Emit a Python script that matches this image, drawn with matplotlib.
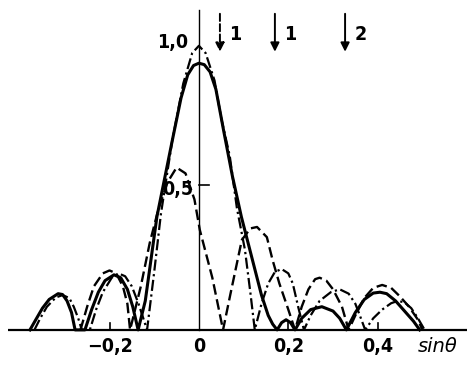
import matplotlib
matplotlib.use('Agg')
import matplotlib.pyplot as plt

# values (sin theta, relative amplitude)
solid_x = [-0.378, -0.365, -0.35, -0.335, -0.315, -0.305, -0.295, -0.285, -0.277,
           -0.255, -0.24, -0.225, -0.21, -0.19, -0.175, -0.16, -0.148, -0.136,
           -0.12, -0.094, -0.06, -0.04, -0.025, -0.012, 0.0, 0.012, 0.025, 0.038,
           0.055, 0.075, 0.095, 0.12, 0.14, 0.155, 0.165, 0.175,
           0.185, 0.195, 0.205, 0.215,
           0.23, 0.25, 0.275, 0.3, 0.315, 0.33,
           0.35, 0.37, 0.39, 0.405, 0.42, 0.44, 0.46, 0.48, 0.494]
solid_y = [0.0, 0.035, 0.075, 0.105, 0.125, 0.122, 0.1, 0.06, 0.0,
           0.0, 0.07, 0.13, 0.17, 0.19, 0.18, 0.14, 0.08, 0.0,
           0.1, 0.39, 0.65, 0.8, 0.88, 0.912, 0.92, 0.915, 0.89, 0.83,
           0.69, 0.53, 0.39, 0.24, 0.12, 0.05, 0.02, 0.0,
           0.025, 0.035, 0.025, 0.0,
           0.04, 0.07, 0.08, 0.065, 0.04, 0.0,
           0.06, 0.105, 0.127, 0.13, 0.125, 0.1, 0.065, 0.03, 0.0]

dashdot_x = [-0.368, -0.355, -0.34, -0.32, -0.305, -0.29, -0.28, -0.27, -0.262,
             -0.244, -0.23, -0.215, -0.195, -0.18, -0.165, -0.15, -0.135, -0.116,
             -0.1, -0.085, -0.06, -0.035, -0.015, 0.0, 0.015, 0.035, 0.05, 0.069,
             0.085, 0.103, 0.115, 0.125,
             0.14, 0.155, 0.17, 0.185, 0.2, 0.21, 0.222, 0.235,
             0.25, 0.27, 0.295, 0.315, 0.335, 0.35, 0.36, 0.372,
             0.39, 0.41, 0.43, 0.445, 0.46, 0.475, 0.49, 0.505]
dashdot_y = [0.0, 0.04, 0.08, 0.112, 0.12, 0.11, 0.08, 0.04, 0.0,
             0.0, 0.07, 0.13, 0.18, 0.195, 0.185, 0.15, 0.09, 0.0,
             0.2, 0.4, 0.65, 0.85, 0.955, 0.98, 0.955, 0.86, 0.73, 0.6,
             0.42, 0.276, 0.13, 0.0,
             0.09, 0.16, 0.2, 0.21, 0.195, 0.16, 0.08, 0.0,
             0.05, 0.1, 0.13, 0.14, 0.125, 0.09, 0.05, 0.0,
             0.04, 0.07, 0.092, 0.1, 0.095, 0.075, 0.04, 0.0]

dashed_x = [-0.265, -0.25, -0.235, -0.215, -0.2, -0.185, -0.17, -0.16, -0.154,
            -0.13, -0.11, -0.09, -0.07, -0.05, -0.03, -0.01, 0.002, 0.03, 0.054,
            0.07, 0.096, 0.115, 0.13, 0.152, 0.165, 0.18, 0.2, 0.215,
            0.23, 0.245, 0.26, 0.27, 0.285, 0.3, 0.32, 0.335,
            0.35, 0.37, 0.39, 0.41, 0.43, 0.45, 0.47, 0.49, 0.5]
dashed_y = [0.0, 0.08, 0.15, 0.195, 0.205, 0.195, 0.15, 0.09, 0.0,
            0.15, 0.3, 0.42, 0.51, 0.56, 0.54, 0.45, 0.345, 0.18, 0.0,
            0.12, 0.31, 0.35, 0.355, 0.32, 0.24, 0.16, 0.07, 0.0,
            0.08, 0.14, 0.175, 0.18, 0.17, 0.14, 0.08, 0.0,
            0.05, 0.11, 0.145, 0.155, 0.145, 0.115, 0.08, 0.035, 0.0]

x_ticks = [-0.2, 0.0, 0.2, 0.4]
x_labels = ['\u22120,2', '0', '0,2', '0,4']
y_ticks = [0.5, 1.0]
y_labels = ['0,5', '1,0']

arrow_x = [0.047, 0.17, 0.327]
arrow_labels = ['1', '1', '2']
arrow_dashed = [True, False, False]

fig = plt.figure(figsize=(4.68, 3.67), dpi=100)
ax = fig.add_axes([0, 0, 1, 1])
ax.set_xlim(-0.445, 0.602)
ax.set_ylim(-0.128, 1.138)
ax.axis('off')

lab = dict(family='DejaVu Sans', stretch='condensed', weight='bold', fontsize=14)

# axes drawn by hand like the original sketch
ax.plot([-0.427, 0.6], [0, 0], color='k', lw=1.6, solid_capstyle='butt')
ax.plot([0, 0], [0, 1.103], color='k', lw=1.0)
ax.plot([0, 0.022], [0.5, 0.5], color='k', lw=1.2)
for t in x_ticks:
    if t != 0:
        ax.plot([t, t], [0, 0.025], color='k', lw=1.2)

ax.plot(solid_x, solid_y, color='k', lw=2.2, solid_joinstyle='round')
ax.plot(dashdot_x, dashdot_y, color='k', lw=1.6, dashes=(5, 1.6, 1, 1.6))
ax.plot(dashed_x, dashed_y, color='k', lw=1.7, dashes=(4.5, 2))

for t, s in zip(x_ticks, x_labels):
    ax.text(t, -0.058, s, ha='center', va='center', **lab)
ax.text(0.535, -0.058, 'sin\u03b8', ha='center', va='center', family='DejaVu Sans',
        style='italic', fontsize=14)
ax.text(-0.047, 0.485, y_labels[0], ha='center', va='center', **lab)
ax.text(-0.058, 0.99, y_labels[1], ha='center', va='center', **lab)

for x, s, d in zip(arrow_x, arrow_labels, arrow_dashed):
    ax.annotate('', xy=(x, 0.95), xytext=(x, 1.1),
                arrowprops=dict(arrowstyle='-|>', color='k', lw=1.4,
                                linestyle='--' if d else '-', mutation_scale=13))
    ax.text(x + 0.035, 1.02, s, ha='center', va='center', **lab)

fig.savefig('out.png', dpi=100)
